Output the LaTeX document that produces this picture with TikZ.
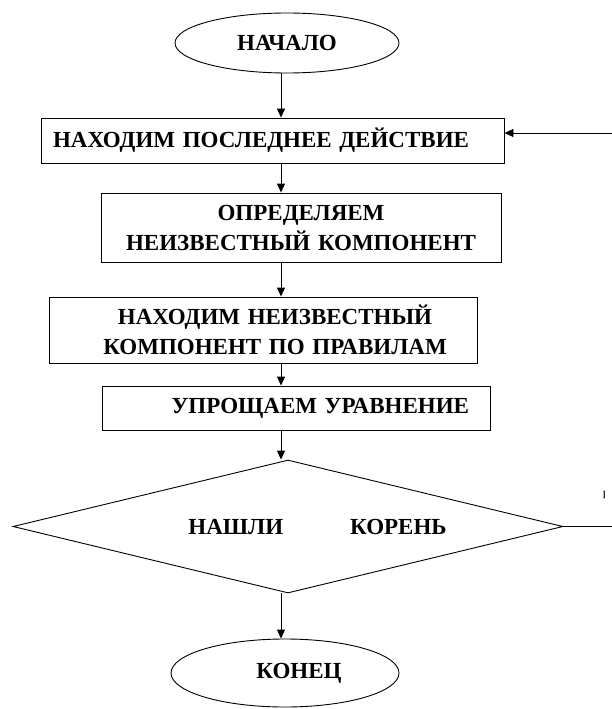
\documentclass[tikz,border=0pt]{standalone}
\usepackage{fontspec}
\setmainfont{Liberation Serif}
\usetikzlibrary{shapes.geometric,arrows.meta}

\begin{document}
\begin{tikzpicture}[x=1pt,y=-1pt,line width=0.9pt,
		every node/.style={font=\fontsize{23}{30}\selectfont\bfseries},
		oval/.style={draw,ellipse,inner sep=0pt},
		box/.style={draw,rectangle,inner sep=0pt,inner ysep=2pt},
		arr/.style={-{Triangle[length=9pt,width=8pt]}}]
		\useasboundingbox (0,0) rectangle (612,709);

		\coordinate (col) at (281,0);

		\node[oval,minimum width=224,minimum height=60] (start) at (287,43) {НАЧАЛО};
		\node[box,minimum width=463,minimum height=45,text width=439,align=left] (find) at (272.5,140.5) {НАХОДИМ ПОСЛЕДНЕЕ ДЕЙСТВИЕ};
		\node[box,minimum width=400,minimum height=69,text width=380,align=center] (which) at (301,227.5) {ОПРЕДЕЛЯЕМ\hspace*{14pt}\\НЕИЗВЕСТНЫЙ КОМПОНЕНТ\hspace*{14pt}};
		\node[box,minimum width=428,minimum height=66,text width=400,align=center] (rule) at (263,330) {\hspace*{24pt}НАХОДИМ НЕИЗВЕСТНЫЙ\\\hspace*{24pt}КОМПОНЕНТ ПО ПРАВИЛАМ};
		\node[box,minimum width=388,minimum height=44,text width=346,align=right] (simp) at (296,408) {УПРОЩАЕМ УРАВНЕНИЕ};
		\node[draw,diamond,inner sep=0pt,minimum width=550,minimum height=133] (root) at (288,526.5) {\makebox[0pt]{\hspace*{59pt}НАШЛИ\hspace{67pt}КОРЕНЬ}};
		\node[oval,minimum width=228,minimum height=68] (stop) at (285,673) {\hspace*{28pt}КОНЕЦ};
		\node[font=\fontsize{9}{9}\selectfont\bfseries,inner sep=0pt] (no) at (604,495) {]};

		\coordinate (back) at (612,133);
		\coordinate (out) at (612,526.5);

		\draw[arr] (start.south -| col) -- (find.north -| col);
		\draw[arr] (find.south -| col) -- (which.north -| col);
		\draw[arr] (which.south -| col) -- (rule.north -| col);
		\draw[arr] (rule.south -| col) -- (simp.north -| col);
		\draw[arr] (simp.south -| col) -- (root.north -| col);
		\draw[arr] (root.south -| col) -- (stop.north -| col);
		\draw[arr] (back) -- (back -| find.east);
		\draw (root.east) -- (out);
\end{tikzpicture}
\end{document}
